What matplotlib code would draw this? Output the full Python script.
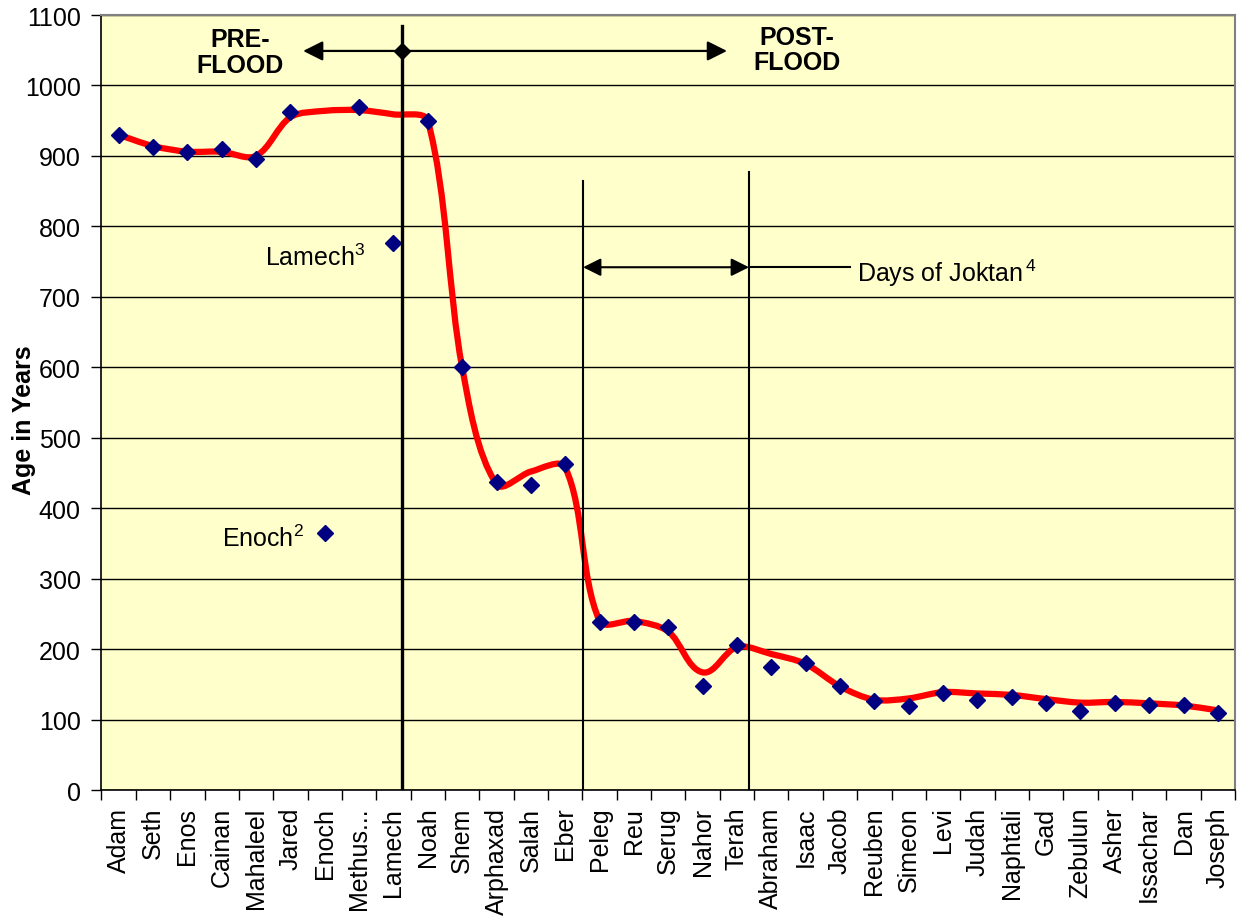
import numpy as np
import matplotlib
matplotlib.use("Agg")
import matplotlib.pyplot as plt
from matplotlib.path import Path
from matplotlib.patches import PathPatch

plt.rcParams['font.family'] = ['Liberation Sans', 'DejaVu Sans']
plt.rcParams['mathtext.fontset'] = 'custom'
plt.rcParams['mathtext.rm'] = 'Liberation Sans'
plt.rcParams['mathtext.default'] = 'regular'

names = ["Adam", "Seth", "Enos", "Cainan", "Mahaleel", "Jared", "Enoch", "Methus...",
         "Lamech", "Noah", "Shem", "Arphaxad", "Salah", "Eber", "Peleg", "Reu", "Serug",
         "Nahor", "Terah", "Abraham", "Isaac", "Jacob", "Reuben", "Simeon", "Levi",
         "Judah", "Naphtali", "Gad", "Zebulun", "Asher", "Issachar", "Dan", "Joseph"]

# age at death (diamond markers)
ages = [930, 912, 905, 910, 895, 962, 365, 969, 777, 950, 600, 437, 433, 463, 239, 239,
        231, 148, 206, 175, 180, 147, 126, 119, 137, 128, 132, 124, 112, 123, 121, 120, 110]

# smoothed trend series (red line)
trend = [930, 914, 906, 906, 900, 955, 964, 965, 959, 950, 600, 434, 452, 458, 240, 240,
         225, 167, 203, 193, 179, 147, 128, 130, 139, 137, 135, 129, 124, 125, 123, 120, 113]

x = np.arange(len(names))

fig = plt.figure(figsize=(12.42, 9.2), dpi=100)
ax = fig.add_axes([0.0817, 0.1402, 0.9127, 0.8424])
ax.set_facecolor("#FFFFCC")
ax.set_xlim(-0.5, len(names) - 0.5)
ax.set_ylim(0, 1100)

# horizontal grid
ax.set_yticks(np.arange(0, 1101, 100))
ax.yaxis.grid(True, color="black", lw=1)
ax.set_axisbelow(True)


def smooth_path(ax, xs, ys, k=0.3):
    # bezier smoothing in pixel space, similar to a spreadsheet "smoothed line"
    pts = ax.transData.transform(np.column_stack([xs, ys]))
    n = len(pts)
    tang = np.zeros_like(pts)
    for i in range(n):
        d = pts[min(i + 1, n - 1)] - pts[max(i - 1, 0)]
        tang[i] = d / np.hypot(*d)
    verts = [pts[0]]
    codes = [Path.MOVETO]
    for i in range(n - 1):
        L = np.hypot(*(pts[i + 1] - pts[i]))
        verts += [pts[i] + tang[i] * L * k, pts[i + 1] - tang[i + 1] * L * k, pts[i + 1]]
        codes += [Path.CURVE4] * 3
    verts = ax.transData.inverted().transform(np.array(verts))
    return Path(verts, codes)


ax.add_patch(PathPatch(smooth_path(ax, x, trend), facecolor="none", edgecolor="#FF0000",
                       lw=4.5, zorder=3, capstyle="round", joinstyle="round"))
ax.plot(x, ages, linestyle="none", marker="D", markersize=8, color="#000080", zorder=4)

# flood divider with arrow
ax.plot([8.25, 8.25], [0, 1084], color="black", lw=2.4, zorder=5)
ax.annotate("", xy=(5.37, 1049), xytext=(17.71, 1049),
            arrowprops=dict(arrowstyle="<|-|>,head_length=0.6,head_width=0.3",
                            color="black", lw=1.6, shrinkA=0, shrinkB=0,
                            mutation_scale=20), zorder=5)
ax.plot([8.25], [1049], marker="D", markersize=8, color="black", zorder=6)
ax.text(3.53, 1047, "PRE-\nFLOOD", ha="center", va="center", fontsize=18,
        fontweight="bold", linespacing=1.1, multialignment="center")
ax.text(19.75, 1051, "POST-\nFLOOD", ha="center", va="center", fontsize=18,
        fontweight="bold", linespacing=1.1, multialignment="center")

# days of Joktan
ax.plot([13.52, 13.52], [0, 864], color="black", lw=1.5, zorder=5)
ax.plot([18.35, 18.35], [0, 877], color="black", lw=1.5, zorder=5)
ax.annotate("", xy=(13.52, 742), xytext=(18.35, 742),
            arrowprops=dict(arrowstyle="<|-|>,head_length=0.6,head_width=0.3",
                            color="black", lw=1.5, shrinkA=0, shrinkB=0,
                            mutation_scale=18), zorder=5)
ax.plot([18.35, 21.29], [742, 742], color="black", lw=1.5, zorder=5)
ax.text(21.49, 722, r"Days of Joktan$^{\,4}$", fontsize=18, va="baseline")

ax.text(4.26, 745, r"Lamech$^{3}$", fontsize=18, va="baseline")
ax.text(3.01, 347, r"Enoch$^{2}$", fontsize=18, va="baseline")

# axes styling
ax.set_xticks(x)
ax.set_xticklabels(names, rotation=90, fontsize=18)
ax.set_xticks(np.arange(-0.5, len(names)), minor=True)
ax.tick_params(axis="x", which="major", length=0, pad=12)
ax.tick_params(axis="x", which="minor", length=7, width=1, direction="out")
ax.tick_params(axis="y", length=7, width=1, direction="out", pad=8, labelsize=18)

ax.set_ylabel("Age in Years", fontsize=18, fontweight="bold")
ax.yaxis.set_label_coords(-0.058, 0.479)

for s in ["left", "bottom"]:
    ax.spines[s].set_color("black")
    ax.spines[s].set_linewidth(1.2)
for s in ["top", "right"]:
    ax.spines[s].set_color("#808080")
    ax.spines[s].set_linewidth(1.5)

fig.savefig("out.png", dpi=100)
